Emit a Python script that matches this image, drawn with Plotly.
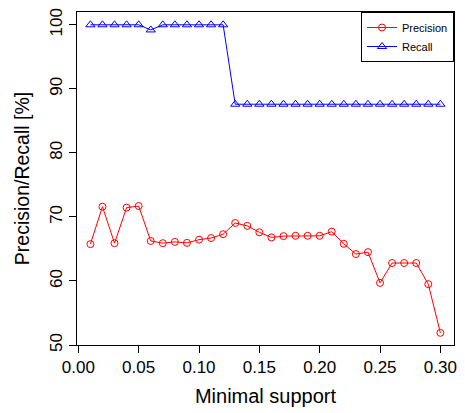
import plotly.graph_objects as go

support = [0.01, 0.02, 0.03, 0.04, 0.05, 0.06, 0.07, 0.08, 0.09, 0.10,
           0.11, 0.12, 0.13, 0.14, 0.15, 0.16, 0.17, 0.18, 0.19, 0.20,
           0.21, 0.22, 0.23, 0.24, 0.25, 0.26, 0.27, 0.28, 0.29, 0.30]
precision = [65.75, 71.6, 65.9, 71.45, 71.7, 66.25, 65.9, 66.1, 65.95, 66.45,
             66.7, 67.3, 69.05, 68.6, 67.6, 66.8, 67.0, 67.05, 67.05, 67.05,
             67.7, 65.8, 64.2, 64.5, 59.7, 62.8, 62.8, 62.8, 59.5, 51.9]
recall = [100, 100, 100, 100, 100, 99.2, 100, 100, 100, 100,
          100, 100, 87.6, 87.6, 87.6, 87.6, 87.6, 87.6, 87.6, 87.6,
          87.6, 87.6, 87.6, 87.6, 87.6, 87.6, 87.6, 87.6, 87.6, 87.6]
x_ticks = [0.00, 0.05, 0.10, 0.15, 0.20, 0.25, 0.30]
x_tick_labels = ["0.00", "0.05", "0.10", "0.15", "0.20", "0.25", "0.30"]
y_ticks = [50, 60, 70, 80, 90, 100]

FONT = "Liberation Sans, Arial, Helvetica, sans-serif"

fig = go.Figure()
fig.add_trace(go.Scatter(
    x=support, y=precision, name="Precision", mode="lines+markers",
    line=dict(color="#ff0000", width=1),
    marker=dict(symbol="circle-open", size=7, color="#ff0000", line=dict(width=1)),
))
fig.add_trace(go.Scatter(
    x=support, y=recall, name="Recall", mode="lines+markers",
    line=dict(color="#0000ff", width=1),
    marker=dict(symbol="triangle-up-open", size=8, color="#0000ff", line=dict(width=1)),
))

fig.update_layout(
    width=465, height=413,
    margin=dict(l=77, r=11, t=8, b=68),
    paper_bgcolor="white", plot_bgcolor="white",
    font=dict(family=FONT, color="black"),
    showlegend=True,
    legend=dict(
        x=1, y=1, xanchor="right", yanchor="top",
        bordercolor="black", borderwidth=1, bgcolor="white",
        font=dict(size=11, family=FONT), itemwidth=30,
        tracegroupgap=0,
    ),
    xaxis=dict(
        range=[-0.0011, 0.3113], tickmode="array", tickvals=x_ticks,
        ticktext=x_tick_labels, ticks="outside", ticklen=7, tickwidth=1,
        tickcolor="black", showline=True, linecolor="black", linewidth=1,
        mirror=True, showgrid=False, zeroline=False,
        tickfont=dict(size=17, family=FONT),
        title=dict(text="Minimal support", font=dict(size=20, family=FONT), standoff=12),
    ),
    yaxis=dict(
        range=[50, 102], tickmode="array", tickvals=y_ticks,
        ticks="outside", ticklen=7, tickwidth=1, tickcolor="black",
        showline=True, linecolor="black", linewidth=1, mirror=True,
        showgrid=False, zeroline=False, tickangle=-90,
        tickfont=dict(size=17, family=FONT),
        title=dict(text="Precision/Recall [%]", font=dict(size=19.5, family=FONT), standoff=12),
    ),
)

fig.write_html("out.html")
